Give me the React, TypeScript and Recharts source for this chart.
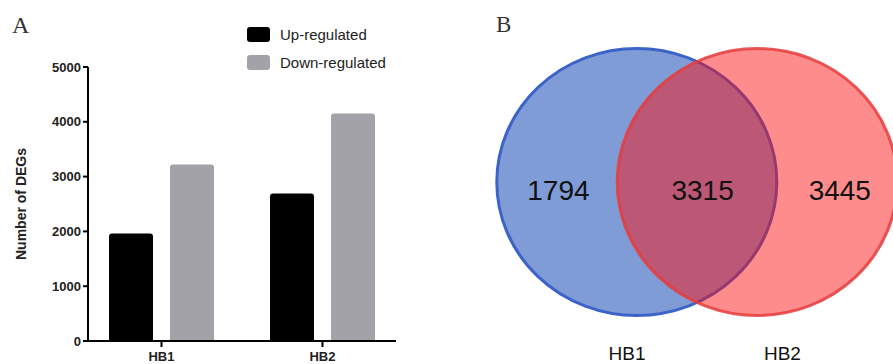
import { BarChart, Bar, XAxis, YAxis, Legend, ScatterChart, Scatter } from 'recharts';

const categories = ['HB1', 'HB2'];
const upRegulated = [1960, 2690];
const downRegulated = [3220, 4150];
const yTicks = [0, 1000, 2000, 3000, 4000, 5000];
const seriesNames = ['Up-regulated', 'Down-regulated'];

const vennSets = ['HB1', 'HB2'];
const vennCounts = [1794, 3315, 3445]; // HB1 only, shared, HB2 only

// venn layout, data units (circle radius = 1)
const circleX = [-0.43, 0.43];
const countX = [-0.99, 0.04, 1.02];
const setLabelX = [-0.5, 0.61];
const countY = -0.06;
const setLabelY = -1.285;

const barData = categories.map((c, i) => ({ name: c, up: upRegulated[i], down: downRegulated[i] }));
const circleData = vennSets.map((s, i) => ({ name: s, x: circleX[i], y: 0, r: 1 }));
const countData = vennCounts.map((v, i) => ({ x: countX[i], y: countY, label: String(v) }));
const setLabelData = vennSets.map((s, i) => ({ x: setLabelX[i], y: setLabelY, label: s }));

const SANS = '"Liberation Sans", Arial, sans-serif';
const SERIF = '"Liberation Serif", "Times New Roman", serif';

const VENN_W = 560;
const VENN_H = 534;
const DOMAIN: [number, number] = [-2, 2];
const PX_X = VENN_W / (DOMAIN[1] - DOMAIN[0]);
const PX_Y = VENN_H / (DOMAIN[1] - DOMAIN[0]);

const circleStyles = [
  { fill: '#809cd6', fillOpacity: 1, stroke: '#3c63c8', strokeOpacity: 1 },
  { fill: '#ff0a0a', fillOpacity: 0.47, stroke: '#e63c3c', strokeOpacity: 0.85 },
];

function CircleShape(props: any) {
  const { cx, cy, payload, index } = props;
  const st = circleStyles[index] || circleStyles[0];
  return (
    <ellipse cx={cx} cy={cy} rx={payload.r * PX_X} ry={payload.r * PX_Y} strokeWidth={3} {...st} />
  );
}

function CountShape(props: any) {
  return (
    <text x={props.cx} y={props.cy} dy="0.36em" textAnchor="middle" fontSize={28} fill="#111" fontFamily={SANS}>
      {props.payload.label}
    </text>
  );
}

function SetLabelShape(props: any) {
  return (
    <text x={props.cx} y={props.cy} dy="0.36em" textAnchor="middle" fontSize={19} fill="#111" fontFamily={SANS}>
      {props.payload.label}
    </text>
  );
}

function renderLegend(props: any) {
  const items = [...(props.payload || [])].sort(
    (a: any, b: any) => seriesNames.indexOf(a.value) - seriesNames.indexOf(b.value),
  );
  return (
    <div style={{ fontFamily: SANS }}>
      {items.map((p: any) => (
        <div key={p.value} style={{ display: 'flex', alignItems: 'center', height: 28 }}>
          <span style={{ display: 'inline-block', width: 23, height: 15, borderRadius: 3, background: p.color, marginRight: 10 }} />
          <span style={{ fontSize: 15, color: '#222' }}>{p.value}</span>
        </div>
      ))}
    </div>
  );
}

function YLabel(props: any) {
  const { viewBox } = props;
  const x = viewBox.x + 21;
  const y = viewBox.y + viewBox.height / 2;
  return (
    <text x={x} y={y} transform={`rotate(-90 ${x} ${y})`} textAnchor="middle" dominantBaseline="central"
      fontSize={14} fontWeight="bold" fill="#222" fontFamily={SANS}>
      Number of DEGs
    </text>
  );
}

export default function App() {
  return (
    <div style={{ position: 'absolute', left: 0, top: 0, width: 893, height: 364, overflow: 'hidden', background: '#fff' }}>
      <div style={{ position: 'absolute', left: 12, top: 12, fontFamily: SERIF, fontSize: 24, color: '#333' }}>A</div>
      <div style={{ position: 'absolute', left: 496, top: 12, fontFamily: SERIF, fontSize: 23, color: '#333' }}>B</div>

      <div style={{ position: 'absolute', left: 0, top: 0 }}>
        <BarChart width={420} height={364} data={barData} barSize={44} barGap={17}
          margin={{ top: 67, right: 24, bottom: 0, left: 0 }}>
          <XAxis dataKey="name" height={23} padding={{ left: -7, right: -7 }}
            axisLine={{ stroke: '#000', strokeWidth: 2 }} tickLine={{ stroke: '#000', strokeWidth: 2 }}
            tickSize={6} tickMargin={5}
            tick={{ fontSize: 13, fontWeight: 'bold', fill: '#222', fontFamily: SANS }} />
          <YAxis width={88} domain={[0, 5000]} ticks={yTicks} interval={0}
            axisLine={{ stroke: '#000', strokeWidth: 2 }} tickLine={{ stroke: '#000', strokeWidth: 2 }}
            tickSize={5} tickMargin={2}
            tick={{ fontSize: 13, fontWeight: 'bold', fill: '#222', fontFamily: SANS }}
            label={{ content: YLabel }} />
          <Legend layout="vertical" align="center" verticalAlign="middle" content={renderLegend}
            wrapperStyle={{ position: 'absolute', left: 247, top: 20, width: 200 }} />
          <Bar dataKey="up" name={seriesNames[0]} fill="#000" radius={[3, 3, 0, 0]} isAnimationActive={false} />
          <Bar dataKey="down" name={seriesNames[1]} fill="#a3a2a8" radius={[3, 3, 0, 0]} isAnimationActive={false} />
        </BarChart>
      </div>

      <div style={{ position: 'absolute', left: 417, top: -85 }}>
        <ScatterChart width={VENN_W} height={VENN_H} margin={{ top: 0, right: 0, bottom: 0, left: 0 }}>
          <XAxis type="number" dataKey="x" domain={DOMAIN} hide />
          <YAxis type="number" dataKey="y" domain={DOMAIN} hide />
          <Scatter data={circleData} shape={CircleShape} isAnimationActive={false} />
          <Scatter data={countData} shape={CountShape} isAnimationActive={false} />
          <Scatter data={setLabelData} shape={SetLabelShape} isAnimationActive={false} />
        </ScatterChart>
      </div>
    </div>
  );
}
